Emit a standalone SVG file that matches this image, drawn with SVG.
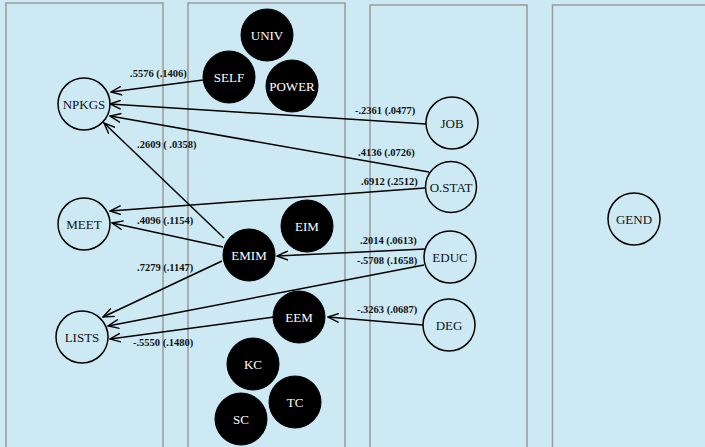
<svg xmlns="http://www.w3.org/2000/svg" width="705" height="447" viewBox="0 0 705 447">
<style>
.box{fill:none;stroke:#9a9a9a;stroke-width:1.5}
.wn{fill:none;stroke:#000;stroke-width:1.5}
.bn{fill:#000;stroke:#000}
.wt{font-family:"Liberation Serif",serif;font-size:13px;fill:#111;text-anchor:middle}
.bt{font-family:"Liberation Serif",serif;font-size:13px;fill:#fff;text-anchor:middle}
.e{fill:none;stroke:#000;stroke-width:1.5;marker-end:url(#v)}
.lb{font-family:"Liberation Serif",serif;font-size:10.5px;font-weight:bold;fill:#111}
</style>
<defs>
<marker id="v" viewBox="0 0 12 10" refX="11" refY="5" markerWidth="12" markerHeight="10" markerUnits="userSpaceOnUse" orient="auto">
<path d="M0,0.5 L11,5 L0,9.5" fill="none" stroke="#000" stroke-width="1.4"/>
</marker>
</defs>
<rect width="705" height="447" fill="#cdeaf4"/>
<g id="boxes">
<rect class="box" x="6" y="3" width="157" height="460"/>
<rect class="box" x="188" y="3" width="157" height="460"/>
<rect class="box" x="370" y="5" width="157" height="460"/>
<rect class="box" x="552.5" y="5" width="170" height="460"/>
</g>
<g id="connectors">
<path class="e" d="M203,80 L111,92"/>
<path class="e" d="M426,124 L110,104"/>
<path class="e" d="M429,172 L110,116"/>
<path class="e" d="M224,238 L104,123"/>
<path class="e" d="M425,188 L110,211"/>
<path class="e" d="M223,247 L112,223"/>
<path class="e" d="M222,261 L103,317"/>
<path class="e" d="M424,265 L108,326"/>
<path class="e" d="M274,317 L110,339"/>
<path class="e" d="M425,249 L277,256"/>
<path class="e" d="M423,325 L328,317"/>
</g>
<g id="labels">
<text class="lb" x="130" y="77">.5576 (.1406)</text>
<text class="lb" x="355" y="114">-.2361 (.0477)</text>
<text class="lb" x="358" y="156">.4136 (.0726)</text>
<text class="lb" x="137" y="148">.2609 ( .0358)</text>
<text class="lb" x="361" y="185">.6912 (.2512)</text>
<text class="lb" x="137" y="224">.4096 (.1154)</text>
<text class="lb" x="137" y="271">.7279 (.1147)</text>
<text class="lb" x="360" y="244">.2014 (.0613)</text>
<text class="lb" x="357" y="264">-.5708 (.1658)</text>
<text class="lb" x="357" y="313">-.3263 (.0687)</text>
<text class="lb" x="133" y="346">-.5550 (.1480)</text>
</g>
<g id="NPKGS"><circle class="wn" cx="84" cy="104" r="26"/><text class="wt" x="84" y="108.5">NPKGS</text></g>
<g id="MEET"><circle class="wn" cx="84" cy="224" r="26"/><text class="wt" x="84" y="228.5">MEET</text></g>
<g id="LISTS"><circle class="wn" cx="82" cy="337" r="26"/><text class="wt" x="82" y="341.5">LISTS</text></g>
<g id="UNIV"><circle class="bn" cx="267" cy="35" r="26"/><text class="bt" x="267" y="39.5">UNIV</text></g>
<g id="SELF"><circle class="bn" cx="229" cy="77" r="26"/><text class="bt" x="229" y="81.5">SELF</text></g>
<g id="POWER"><circle class="bn" cx="292" cy="86" r="26"/><text class="bt" x="292" y="90.5">POWER</text></g>
<g id="EIM"><circle class="bn" cx="307" cy="226" r="26"/><text class="bt" x="307" y="230.5">EIM</text></g>
<g id="EMIM"><circle class="bn" cx="249" cy="255" r="26"/><text class="bt" x="249" y="259.5">EMIM</text></g>
<g id="EEM"><circle class="bn" cx="299" cy="317" r="26"/><text class="bt" x="299" y="321.5">EEM</text></g>
<g id="KC"><circle class="bn" cx="253" cy="364" r="26"/><text class="bt" x="253" y="368.5">KC</text></g>
<g id="TC"><circle class="bn" cx="295" cy="402" r="26"/><text class="bt" x="295" y="406.5">TC</text></g>
<g id="SC"><circle class="bn" cx="241" cy="419" r="26"/><text class="bt" x="241" y="423.5">SC</text></g>
<g id="JOB"><circle class="wn" cx="452" cy="123" r="26"/><text class="wt" x="452" y="127.5">JOB</text></g>
<g id="OSTAT"><circle class="wn" cx="451" cy="187" r="25.5"/><text class="wt" x="451" y="191.5">O.STAT</text></g>
<g id="EDUC"><circle class="wn" cx="450" cy="257" r="26"/><text class="wt" x="450" y="261.5">EDUC</text></g>
<g id="DEG"><circle class="wn" cx="449" cy="325" r="26"/><text class="wt" x="449" y="329.5">DEG</text></g>
<g id="GEND"><circle class="wn" cx="634" cy="219" r="26"/><text class="wt" x="634" y="223.5">GEND</text></g>
</svg>
